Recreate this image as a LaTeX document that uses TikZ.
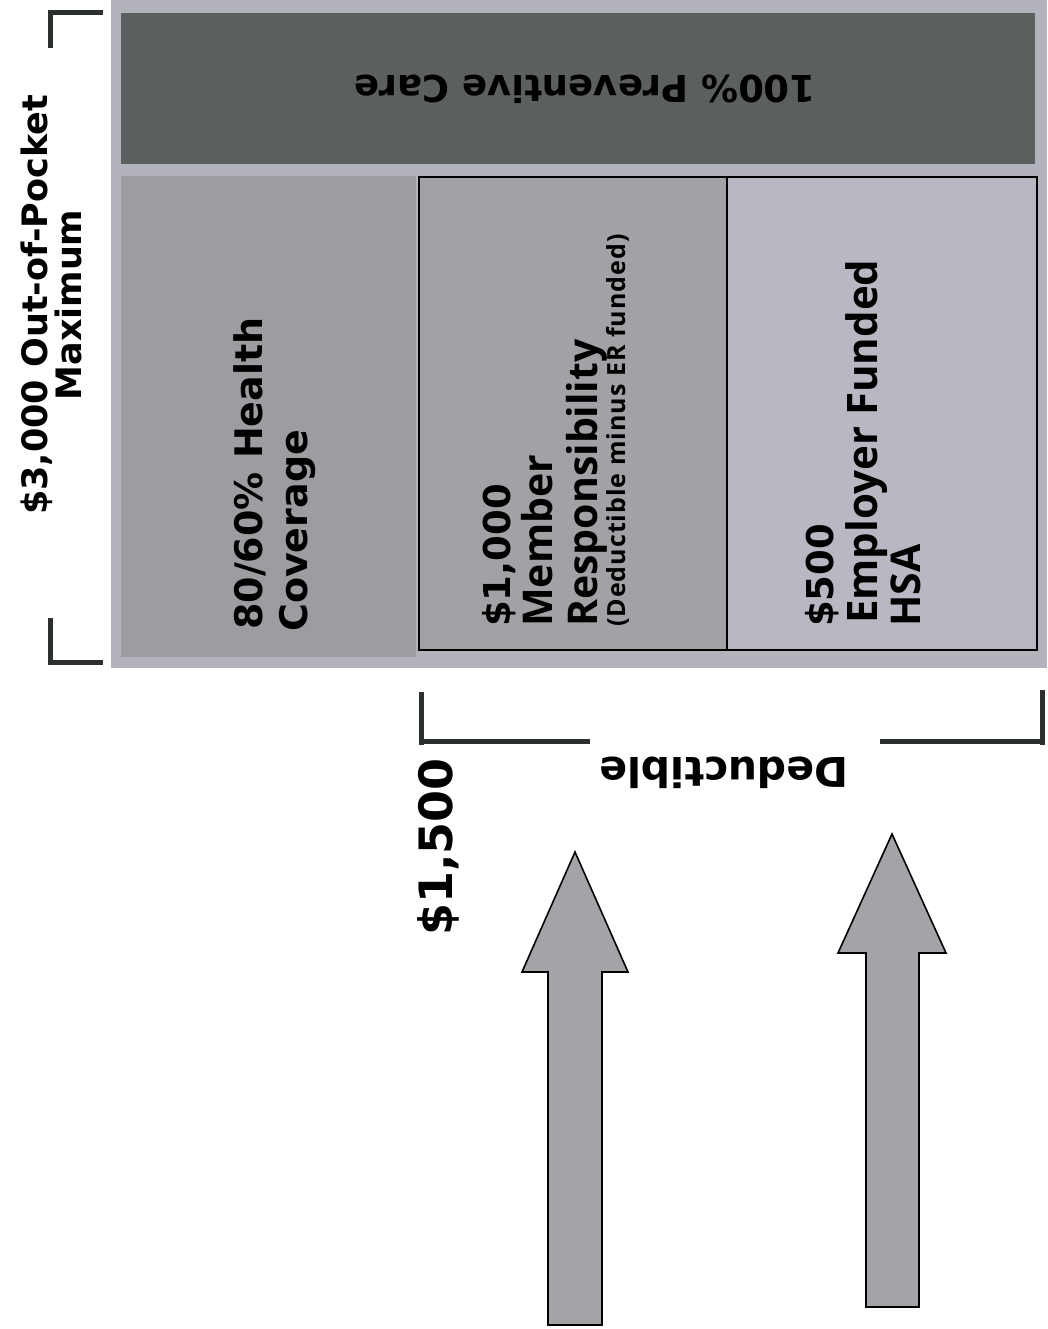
\documentclass[tikz,border=0pt]{standalone}
\usepackage{fontspec}
\setmainfont{DejaVu Sans}
\newfontfamily\verd{DejaVu Sans}[BoldFont={DejaVu Sans Bold}]
\newfontfamily\osans{Open Sans}
\definecolor{outerbg}{HTML}{B3B3BB}
\definecolor{darkbox}{HTML}{5B5F60}
\definecolor{leftbox}{HTML}{9B9DA0}
\definecolor{midbox}{HTML}{A2A2A6}
\definecolor{rightbox}{HTML}{B8B8C3}
\definecolor{arrowfill}{HTML}{A4A4A8}
\definecolor{brk}{HTML}{2B2F30}
\tikzset{
  vlabel/.style={rotate=90, anchor=base west, inner sep=0pt, text=black},
  vf/.style={font=\verd\bfseries\fontsize{#1}{#1}\selectfont},
  of/.style={font=\osans\bfseries\fontsize{#1}{#1}\selectfont},
  panelline/.style={draw=black, line width=1.5pt},
  bracketline/.style={draw=brk, line width=5pt},
  bigarrow/.style={fill=arrowfill, draw=black, line width=1.6pt, line join=miter},
}
\begin{document}
\begin{tikzpicture}[x=1pt,y=-1pt]
\useasboundingbox (0,0) rectangle (1047,1329);
\fill[white] (0,0) rectangle (1047,1329);
% background panel
\fill[outerbg] (111,0) rectangle (1047,668);
\fill[darkbox] (121,13) rectangle (1035,164);
\fill[leftbox] (121,176) rectangle (416,657);
\filldraw[fill=midbox, panelline] (419,177) rectangle (727,650);
\filldraw[fill=rightbox, panelline] (727,177) rectangle (1037,650);
% texts in panels
\node[rotate=180, anchor=base, inner sep=0pt, vf=37] (prev) at (585,76) {100\% Preventive Care};
\node[vlabel, vf=38] (cov1) at (262,630) {80/60\% Health};
\node[vlabel, vf=38] (cov2) at (307,632) {Coverage};
\node[vlabel, vf=37] (mem1) at (510,627) {\$1,000};
\node[vlabel, of=41] (mem2) at (552,627) {Member};
\node[vlabel, of=41] (mem3) at (597,627) {Responsibility};
\node[vlabel, font=\osans\bfseries\fontsize{25}{25}\selectfont\addfontfeature{LetterSpace=4}] (mem4) at (625,627) {(Deductible minus ER funded)};
\node[vlabel, vf=37] (hsa1) at (833,627) {\$500};
\node[vlabel, of=42] (hsa2) at (877,624) {Employer Funded};
\node[vlabel, of=41] (hsa3) at (920,627) {HSA};
% out-of-pocket label and bracket
\node[rotate=90, anchor=base, inner sep=0pt, vf=35] (oop1) at (47,305) {\$3,000 Out-of-Pocket};
\node[rotate=90, anchor=base, inner sep=0pt, vf=35] (oop2) at (81,305) {Maximum};
\draw[bracketline] (103,13) -| (50,48);
\draw[bracketline] (50,618) |- (103,662);
% deductible bracket
\draw[bracketline] (421,692) -- (421,745);
\draw[bracketline] (424,741) -- (590,741);
\draw[bracketline] (880,741) -- (1042,741);
\draw[bracketline] (1042,690) -- (1042,745);
\node[rotate=180, anchor=base, inner sep=0pt, vf=41] (ded) at (724,757) {Deductible};
\node[vlabel, vf=46] (d1500) at (452,936) {\$1,500};
% arrows
\draw[bigarrow] (548,1325) -- (548,972) -- (522,972) -- (575,852) -- (628,972) -- (602,972) -- (602,1325) -- cycle;
\draw[bigarrow] (866,1307) -- (866,953) -- (838,953) -- (892,834) -- (946,953) -- (919,953) -- (919,1307) -- cycle;
\end{tikzpicture}
\end{document}
